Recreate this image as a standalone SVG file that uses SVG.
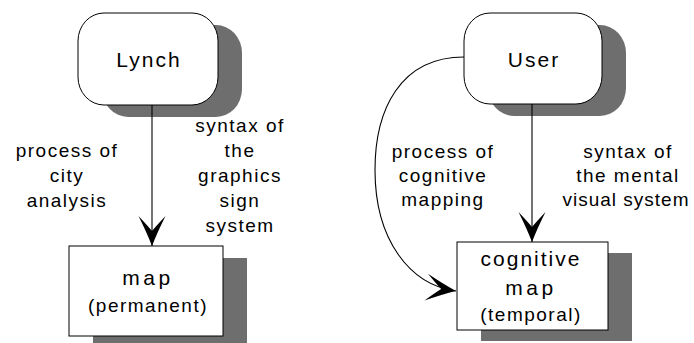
<svg xmlns="http://www.w3.org/2000/svg" width="694" height="343" viewBox="0 0 694 343">
  <style>
    .shadow { fill: #6e6e6e; stroke: none; }
    .node { fill: #ffffff; stroke: #000000; stroke-width: 1; }
    .conn { fill: none; stroke: #000000; stroke-width: 1.1; }
    text { font-family: "Liberation Sans", Arial, sans-serif; fill: #000000; text-anchor: middle; }
    .title { font-size: 21px; letter-spacing: 2px; }
    .sub { font-size: 19px; letter-spacing: 1.5px; }
    .lbl { font-size: 19px; letter-spacing: 1.5px; }
  </style>
  <defs>
    <marker id="arrow" viewBox="-32 -16 34 32" markerWidth="34" markerHeight="32" refX="0" refY="0" orient="auto" markerUnits="userSpaceOnUse" overflow="visible">
      <path d="M0,0 Q-13,-5 -30,-13.5 Q-21,-5 -15,0 Q-21,5 -30,13.5 Q-13,5 0,0 Z" fill="#000000"/>
    </marker>
  </defs>
  <rect width="694" height="343" fill="#ffffff"/>

  <g id="lynch">
    <rect class="shadow" x="102" y="25" width="140" height="92" rx="26" ry="28"/>
    <rect class="node" x="78" y="13" width="140" height="92" rx="26" ry="28"/>
    <text class="title" x="149" y="67">Lynch</text>
  </g>

  <g id="user">
    <rect class="shadow" x="488" y="25" width="138" height="91" rx="26" ry="28"/>
    <rect class="node" x="464" y="13" width="138" height="91" rx="26" ry="28"/>
    <text class="title" x="534" y="67">User</text>
  </g>

  <g id="map">
    <rect class="shadow" x="93" y="258" width="154" height="90"/>
    <rect class="node" x="69" y="246" width="154" height="90"/>
    <text class="title" x="148" y="285" style="letter-spacing:3.5px">map</text>
    <text class="sub" x="148" y="312">(permanent)</text>
  </g>

  <g id="cognitive-map">
    <rect class="shadow" x="481" y="253" width="151" height="88"/>
    <rect class="node" x="457" y="242" width="151" height="88"/>
    <text class="title" x="531" y="266">cognitive</text>
    <text class="title" x="531" y="295" style="letter-spacing:3.5px">map</text>
    <text class="sub" x="531" y="321">(temporal)</text>
  </g>

  <g id="connectors">
    <path class="conn" d="M152,105 L152,246" marker-end="url(#arrow)"/>
    <path class="conn" d="M532,104 L532,242" marker-end="url(#arrow)"/>
    <path class="conn" d="M464,57 C400,57 375,110 375,170 C375,240 410,285 456,291" marker-end="url(#arrow)"/>
  </g>

  <g id="labels">
    <text class="lbl" x="67" y="157">process of</text>
    <text class="lbl" x="67" y="182">city</text>
    <text class="lbl" x="67" y="207">analysis</text>

    <text class="lbl" x="240" y="132">syntax of</text>
    <text class="lbl" x="240" y="157">the</text>
    <text class="lbl" x="240" y="182">graphics</text>
    <text class="lbl" x="240" y="207">sign</text>
    <text class="lbl" x="240" y="232">system</text>

    <text class="lbl" x="443" y="158">process of</text>
    <text class="lbl" x="443" y="182">cognitive</text>
    <text class="lbl" x="443" y="206">mapping</text>

    <text class="lbl" x="628" y="158">syntax of</text>
    <text class="lbl" x="628" y="182">the mental</text>
    <text class="lbl" x="626" y="206" style="letter-spacing:1px">visual system</text>
  </g>
</svg>
